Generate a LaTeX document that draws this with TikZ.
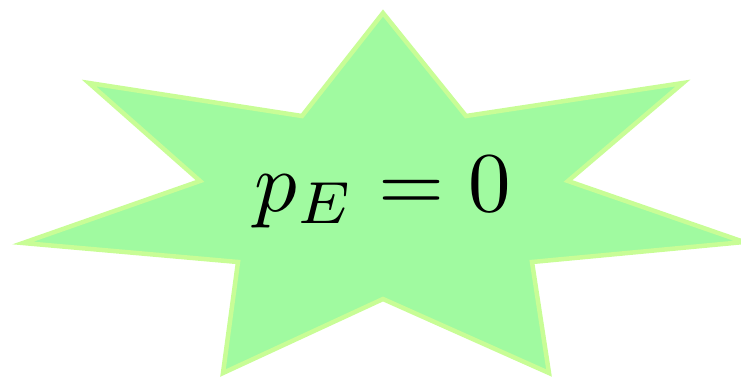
\documentclass[tikz,border=0pt]{standalone}
\begin{document}
\begin{tikzpicture}[x=1pt,y=-1pt,
  burst/.style={fill={rgb,255:red,160;green,250;blue,160},draw={rgb,255:red,200;green,253;blue,150},line width=4.5pt,line join=miter,miter limit=20}]
\useasboundingbox (0,0) rectangle (741,378);
\draw[burst] (383,13) -- (302,116) -- (89,83) -- (200,181) -- (23,243) -- (238,262) -- (223,373) -- (383,299) -- (549,373) -- (532,262) -- (744,242) -- (568,181) -- (683,83) -- (466,116) -- cycle;
\node[scale=8.5] (lbl) at (383,192) {$p_E=0$};
\end{tikzpicture}
\end{document}
